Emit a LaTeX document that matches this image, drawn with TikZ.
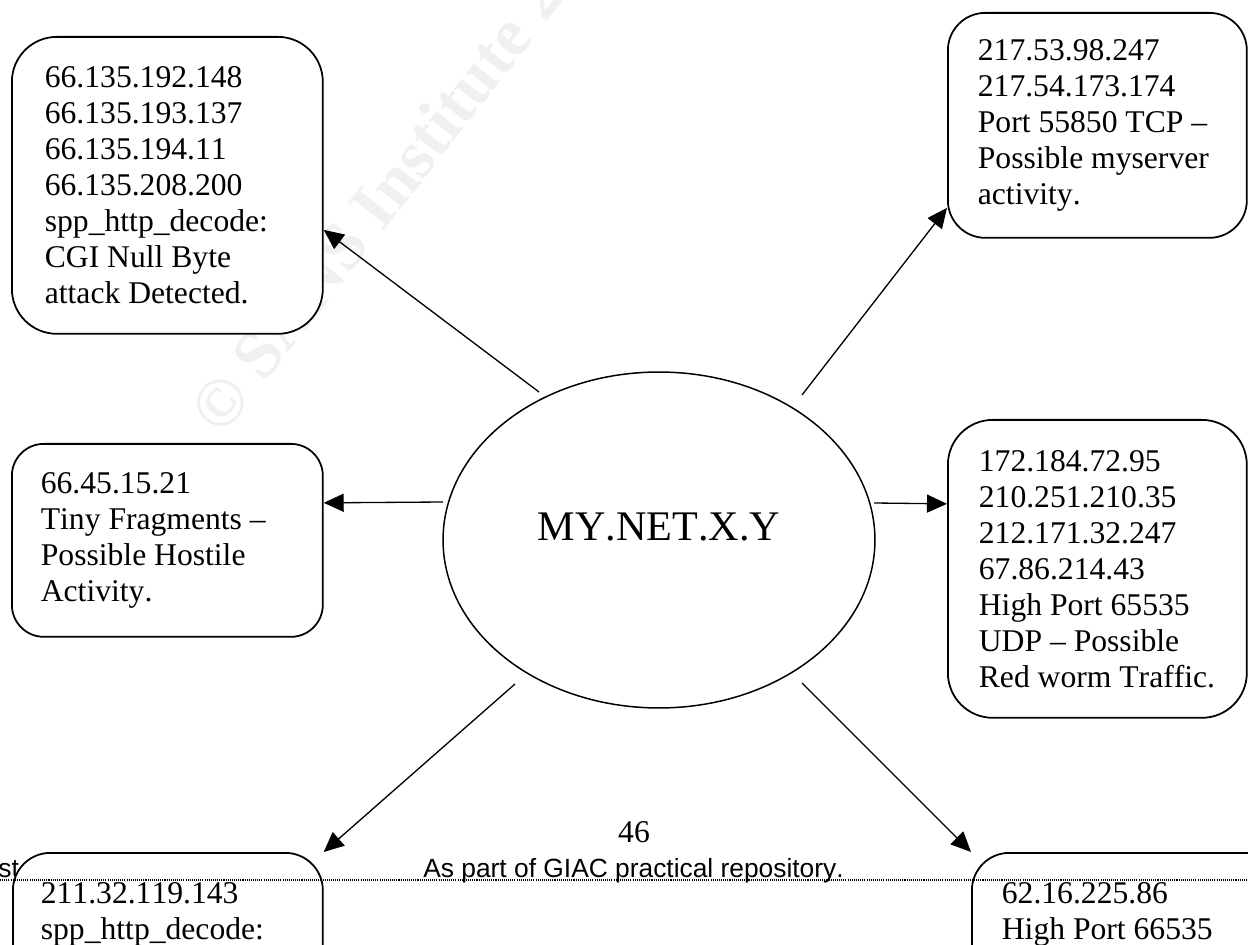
\documentclass[tikz,border=0pt]{standalone}
\usepackage{fontspec}
\setmainfont{Liberation Serif}[Kerning=Off]
\newfontfamily\footfont{Liberation Sans}[Kerning=Off]
\usepackage{tikz}
\usetikzlibrary{arrows.meta}
\usetikzlibrary{shapes.geometric}
\usetikzlibrary{calc}

\begin{document}
\begin{tikzpicture}[x=0.02cm, y=-0.02cm,
    alert/.style={draw, line width=1pt, fill=white, rounded corners=0.8cm,
      anchor=north west, align=flush left, font=\fontsize{18}{20.5}\selectfont},
    flow/.style={line width=0.75pt, -{Triangle[length=0.4cm, width=0.36cm]}},
    foot/.style={inner sep=0pt, anchor=base west, font=\footfont\fontsize{15}{15}\selectfont}]
  \useasboundingbox (0,0) rectangle (1248,945);
  \clip (0,0) rectangle (1248,945);

  \node[anchor=base west, inner sep=0pt, rotate=52, text=black!6,
    font=\fontsize{39}{39}\selectfont\bfseries] (mark) at (222,438) {© SANS Institute 20};
  \node[foot] (st) at (-2,877) {st};

  \node[alert, minimum width=6.22cm, minimum height=5.94cm, inner xsep=0.66cm,
    text width=4.9cm, rounded corners=0.9cm] (cgi) at (11,36)
    {66.135.192.148\\66.135.193.137\\66.135.194.11\\66.135.208.200\\
     spp\_http\_decode:\\CGI~Null~Byte\\attack~Detected.};
  \node[alert, minimum width=5.98cm, minimum height=4.5cm, inner xsep=0.6cm,
    text width=4.78cm, rounded corners=0.75cm] (myserver) at (947,12)
    {217.53.98.247\\217.54.173.174\\Port~55850~TCP~--\\Possible~myserver\\activity.};
  \node[alert, minimum width=6.22cm, minimum height=3.86cm, inner xsep=0.58cm,
    text width=5.06cm, rounded corners=0.64cm] (tiny) at (11,443)
    {66.45.15.21\\Tiny~Fragments~--\\Possible~Hostile\\Activity.};
  \node[alert, minimum width=5.98cm, minimum height=5.96cm, inner xsep=0.62cm,
    text width=4.74cm, rounded corners=0.9cm] (redworm) at (947,419)
    {172.184.72.95\\210.251.210.35\\212.171.32.247\\67.86.214.43\\
     High~Port~65535\\UDP~--~Possible\\Red~worm~Traffic.};
  \node[alert, minimum width=6.2cm, inner xsep=0.56cm, inner ysep=0.6cm,
    text width=5.08cm, text depth=6cm, rounded corners=0.75cm] (http) at (12,852)
    {211.32.119.143\\spp\_http\_decode:};
  \node[alert, minimum width=7cm, inner xsep=0.6cm, inner ysep=0.6cm,
    text width=5.8cm, text depth=6cm, rounded corners=0.75cm] (highport) at (971,852)
    {62.16.225.86\\High~Port~66535};

  \node[draw, ellipse, line width=0.85pt, minimum width=8.64cm, minimum height=6.72cm,
    inner sep=0pt, text depth=14.8pt, font=\fontsize{24}{24}\selectfont] (net) at (659,540)
    {MY.NET.X.Y};

  \draw[flow] ($(net.center)+(-120,-148)$) -- ($(cgi.east)+(0,44.5)$);
  \draw[flow] ($(net.center)+(143,-145)$) -- ($(myserver.west)+(0,82.5)$);
  \draw[flow] ($(net.center)+(-216,-38)$) -- ($(tiny.east)+(0,-37.5)$);
  \draw[flow] ($(net.center)+(215,-37)$) -- ($(redworm.west)+(0,-65)$);
  \draw[flow] ($(net.center)+(-144,144)$) -- (http.north east);
  \draw[flow] ($(net.center)+(143,143)$) -- (highport.north west);

  \draw[line width=0.6pt, dash pattern=on 0.6pt off 0.6pt] (0,880) -- (1248,880);
  \node[inner sep=0pt, anchor=base, font=\fontsize{18}{18}\selectfont] (page) at (634,842) {46};
  \node[foot] (repo) at (423,877) {As part of GIAC practical repository.};
\end{tikzpicture}
\end{document}
